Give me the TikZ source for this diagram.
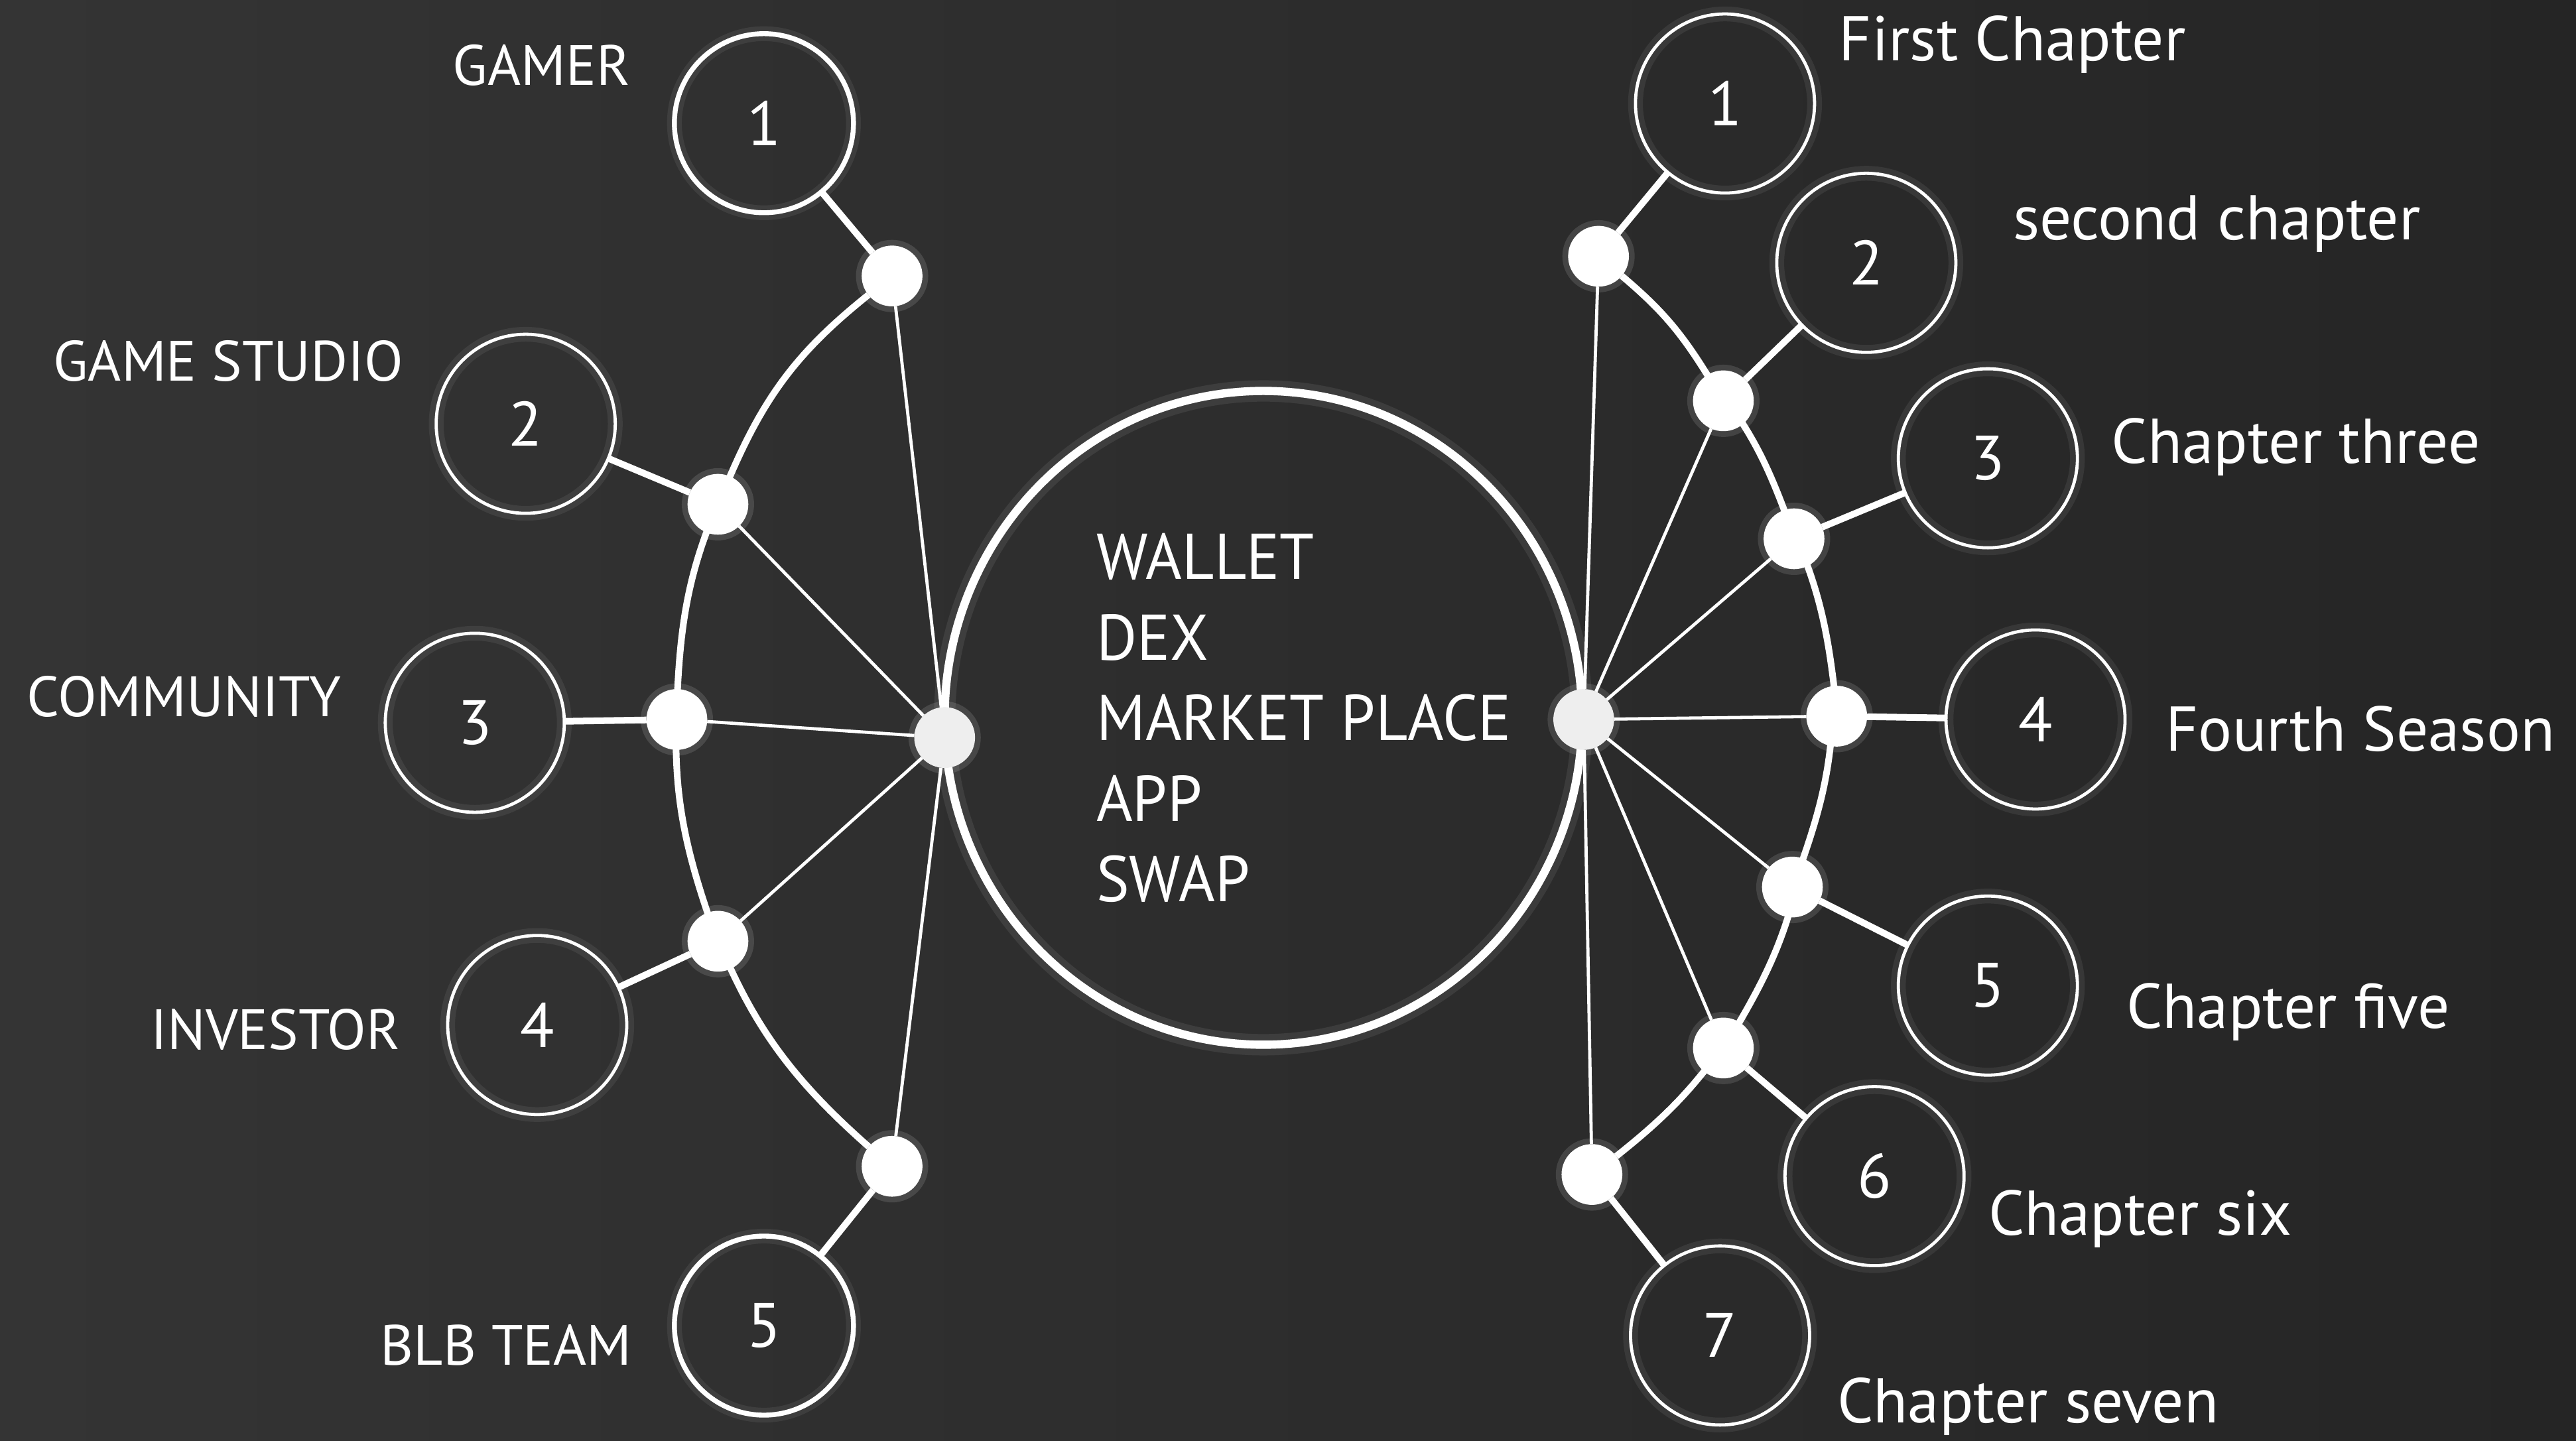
\documentclass[tikz,border=0pt]{standalone}
\usepackage{fontspec}
\setmainfont{PT Sans}
\newfontfamily\listfont[FakeStretch=0.96]{PT Sans}
\usetikzlibrary{shapes.geometric}

\definecolor{bgleft}{RGB}{52,52,52}
\definecolor{bgright}{RGB}{37,37,37}
\definecolor{hubgray}{RGB}{238,238,238}

\begin{document}
\begin{tikzpicture}[
  x = 0.2mm, y = -0.2mm,
  dot/.style = {
    shape = circle,
    fill = white,
    minimum size = 7.4mm,
    inner sep = 0pt,
    outer sep = 0pt,
    preaction = {draw = white, line width = 1.4mm, opacity = 0.12}
  },
  num/.style = {
    shape = circle,
    draw = white,
    line width = 1.1pt,
    minimum size = 21.8mm,
    inner sep = 0pt,
    outer sep = 0pt,
    text = white,
    font = \fontsize{21.7}{26}\selectfont,
    preaction = {draw = white, line width = 1.8mm, opacity = 0.07}
  },
  bold num/.style = {
    num,
    line width = 1.7pt
  },
  ring/.style = {
    shape = ellipse,
    draw = white,
    line width = 2.85pt,
    minimum width = 77.6mm,
    minimum height = 79.6mm,
    inner sep = 0pt,
    outer sep = 0pt,
    preaction = {draw = white, line width = 2.6mm, opacity = 0.08}
  },
  spoke/.style = {white, line width = 1.1pt},
  rim/.style = {white, line width = 2.3pt},
  stem/.style = {white, line width = 2.3pt},
  lefttag/.style = {
    text = white,
    inner sep = 0pt,
    anchor = base east,
    font = \fontsize{19.7}{24}\selectfont
  },
  righttag/.style = {
    text = white,
    inner sep = 0pt,
    anchor = base west,
    font = \fontsize{21.9}{26}\selectfont
  }
]
  % background
  \fill[left color = bgleft, right color = bgright] (0,0) rectangle (1568,877);

  % centre
  \node[ring] (wallet) at (769,437) {};
  \node[text = white, inner sep = 0pt, anchor = west, align = left,
        font = \listfont\fontsize{22.4}{27.9}\selectfont] (services) at (667,437)
        {WALLET\\DEX\\MARKET PLACE\\APP\\SWAP};

  \node[dot, fill = hubgray] (lhub) at (575,449) {};
  \node[dot, fill = hubgray] (rhub) at (964,438) {};

  % left side
  \node[dot] (ld1) at (543,168) {};
  \node[dot] (ld2) at (437,307) {};
  \node[dot] (ld3) at (412,438) {};
  \node[dot] (ld4) at (437,573) {};
  \node[dot] (ld5) at (543,710) {};

  \node[bold num] (lc1) at (465,75) {1};
  \node[num] (lc2) at (320,258) {2};
  \node[num] (lc3) at (289,440) {3};
  \node[num] (lc4) at (327,624) {4};
  \node[bold num] (lc5) at (465,807) {5};

  \foreach \i in {1,...,5} {
    \draw[spoke] (lhub) -- (ld\i);
    \draw[stem] (ld\i) -- (lc\i);
  }
  \draw[rim] (ld1) to[bend right=14] (ld2) to[bend right=11] (ld3)
    to[bend right=11] (ld4) to[bend right=14] (ld5);

  \node[lefttag] (gamer) at (384,52) {GAMER};
  \node[lefttag] (studio) at (246,232) {GAME STUDIO};
  \node[lefttag] (community) at (208,436) {COMMUNITY};
  \node[lefttag] (investor) at (244,639) {INVESTOR};
  \node[lefttag] (team) at (385,831) {BLB TEAM};

  % right side
  \node[dot] (rd1) at (973,156) {};
  \node[dot] (rd2) at (1049,244) {};
  \node[dot] (rd3) at (1092,328) {};
  \node[dot] (rd4) at (1118,436) {};
  \node[dot] (rd5) at (1091,540) {};
  \node[dot] (rd6) at (1049,638) {};
  \node[dot] (rd7) at (969,715) {};

  \node[num] (rc1) at (1050,63) {1};
  \node[num] (rc2) at (1136,160) {2};
  \node[num] (rc3) at (1210,279) {3};
  \node[num] (rc4) at (1239,438) {4};
  \node[num] (rc5) at (1210,600) {5};
  \node[num] (rc6) at (1141,716) {6};
  \node[num] (rc7) at (1047,813) {7};

  \foreach \i in {1,...,7} {
    \draw[spoke] (rhub) -- (rd\i);
    \draw[stem] (rd\i) -- (rc\i);
  }
  \draw[rim] (rd1) to[bend left=9] (rd2) to[bend left=9] (rd3)
    to[bend left=9] (rd4) to[bend left=9] (rd5) to[bend left=9] (rd6)
    to[bend left=9] (rd7);

  \node[righttag] (first) at (1119,37) {First Chapter};
  \node[righttag] (second) at (1225,146) {second chapter};
  \node[righttag] (third) at (1285,282) {Chapter three};
  \node[righttag] (fourth) at (1318,457) {Fourth Season};
  \node[righttag] (fifth) at (1294,626) {Chapter five};
  \node[righttag] (sixth) at (1210,752) {Chapter six};
  \node[righttag] (seventh) at (1118,866) {Chapter seven};
\end{tikzpicture}
\end{document}
